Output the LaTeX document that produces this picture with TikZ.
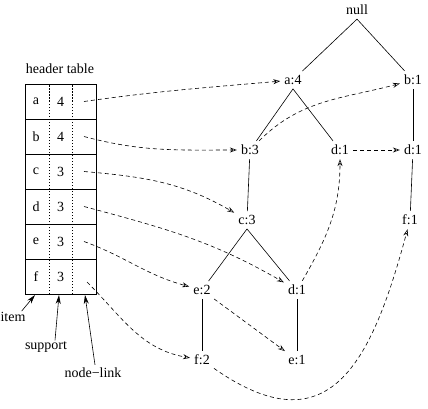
\documentclass[tikz,border=0pt]{standalone}
\usepackage{fontspec}
\setmainfont{Liberation Serif}
\usepackage{tikz}
\usetikzlibrary{arrows.meta, positioning}
\tikzset{
    treenode/.style={
        font=\fontsize{14}{16}\selectfont,
        inner sep=4pt
    },
    celltext/.style={
        font=\fontsize{14}{16}\selectfont,
        inner sep=1pt
    },
    caption/.style={
        font=\fontsize{14}{16}\selectfont,
        inner sep=1pt
    },
    treeedge/.style={
        line width=0.6pt
    },
    linkarrow/.style={
        -{Stealth[open, length=7pt, width=5pt]},
        dash pattern=on 4pt off 3pt,
        line width=0.6pt
    },
    pointer/.style={
        -{Stealth[length=9pt, width=5pt]},
        line width=0.6pt
    }
}

\begin{document}
\begin{tikzpicture}[x=1pt, y=1pt]
        \useasboundingbox (0,0) rectangle (428,408);

        % Header table
        \node[caption] (title) at (60,339) {header table};
        \draw[line width=0.7pt] (25,114) rectangle (96,324);
        \draw[line width=0.6pt] (25,289) -- (96,289) (25,254) -- (96,254)
            (25,219) -- (96,219) (25,184) -- (96,184) (25,149) -- (96,149);
        \draw[dash pattern=on 1.5pt off 1.5pt, line width=0.6pt] (49,114) -- (49,324) (72,114) -- (72,324);

        \node[celltext] (ia) at (36,306.5) {a};
        \node[celltext] (sa) at (60.5,306.5) {4};
        \coordinate (la) at (84,306.5);
        \node[celltext] (ib) at (36,271.5) {b};
        \node[celltext] (sb) at (60.5,271.5) {4};
        \coordinate (lb) at (84,271.5);
        \node[celltext] (ic) at (36,236.5) {c};
        \node[celltext] (sc) at (60.5,236.5) {3};
        \coordinate (lc) at (84,236.5);
        \node[celltext] (id) at (36,201.5) {d};
        \node[celltext] (sd) at (60.5,201.5) {3};
        \coordinate (ld) at (84,201.5);
        \node[celltext] (ie) at (36,166.5) {e};
        \node[celltext] (se) at (60.5,166.5) {3};
        \coordinate (le) at (84,166.5);
        \node[celltext] (if) at (36,131.5) {f};
        \node[celltext] (sf) at (60.5,131.5) {3};
        \coordinate (lf) at (87,126);

        % Column captions
        \node[caption] (item) at (13,91) {item};
        \node[caption] (support) at (46,61) {support};
        \node[caption] (nodelink) at (93,35) {node−link};
        \coordinate (itemcol) at (35,113);
        \coordinate (supportcol) at (59,113);
        \coordinate (linkcol) at (85,113);
        \draw[pointer] ([xshift=-5pt]item.north east) -- (itemcol);
        \draw[pointer] ([xshift=9pt]support.north) -- (supportcol);
        \draw[pointer] ([xshift=2pt, yshift=2pt]nodelink.north) -- (linkcol);

        % Tree
        \node[treenode] (null) at (357,398) {null};
        \node[treenode] (a4) at (293,328) {a:4};
        \node[treenode] (b1) at (413,328) {b:1};
        \node[treenode] (b3) at (250,258) {b:3};
        \node[treenode] (d1a) at (340,258) {d:1};
        \node[treenode] (d1b) at (413,258) {d:1};
        \node[treenode] (c3) at (247,188) {c:3};
        \node[treenode] (f1) at (410,188) {f:1};
        \node[treenode] (e2) at (202,118) {e:2};
        \node[treenode] (d1c) at (297,118) {d:1};
        \node[treenode] (f2) at (202,48) {f:2};
        \node[treenode] (e1) at (297,48) {e:1};

        \draw[treeedge] (null.south) -- (a4);
        \draw[treeedge] (null.south) -- (b1);
        \draw[treeedge] (a4.south) -- (b3);
        \draw[treeedge] (a4.south) -- (d1a);
        \draw[treeedge] (b3) -- (c3);
        \draw[treeedge] (c3.south) -- (e2);
        \draw[treeedge] (c3.south) -- (d1c);
        \draw[treeedge] (e2) -- (f2);
        \draw[treeedge] (d1c) -- (e1);
        \draw[treeedge] (b1) -- (d1b);
        \draw[treeedge] (d1b) -- (f1);

        % Node-links
        \draw[linkarrow] (la) to[out=8, in=185] (a4);
        \draw[linkarrow] (lb) to[out=-15, in=180] (b3);
        \draw[linkarrow] (lc) to[out=-5, in=150] (c3);
        \draw[linkarrow] (ld) to[out=-15, in=150] (d1c);
        \draw[linkarrow] (le) to[out=-20, in=165] (e2);
        \draw[linkarrow] (lf) to[out=-45, in=170] (f2);
        \draw[linkarrow] (b3) to[out=45, in=195] (b1);
        \draw[linkarrow] (d1a) -- (d1b);
        \draw[linkarrow] (d1c) to[out=60, in=-90] (d1a);
        \draw[linkarrow] (e2) -- (e1);
        \draw[linkarrow] (f2) to[out=-35, in=-105, looseness=1.5] (f1);
    \end{tikzpicture}
\end{document}
